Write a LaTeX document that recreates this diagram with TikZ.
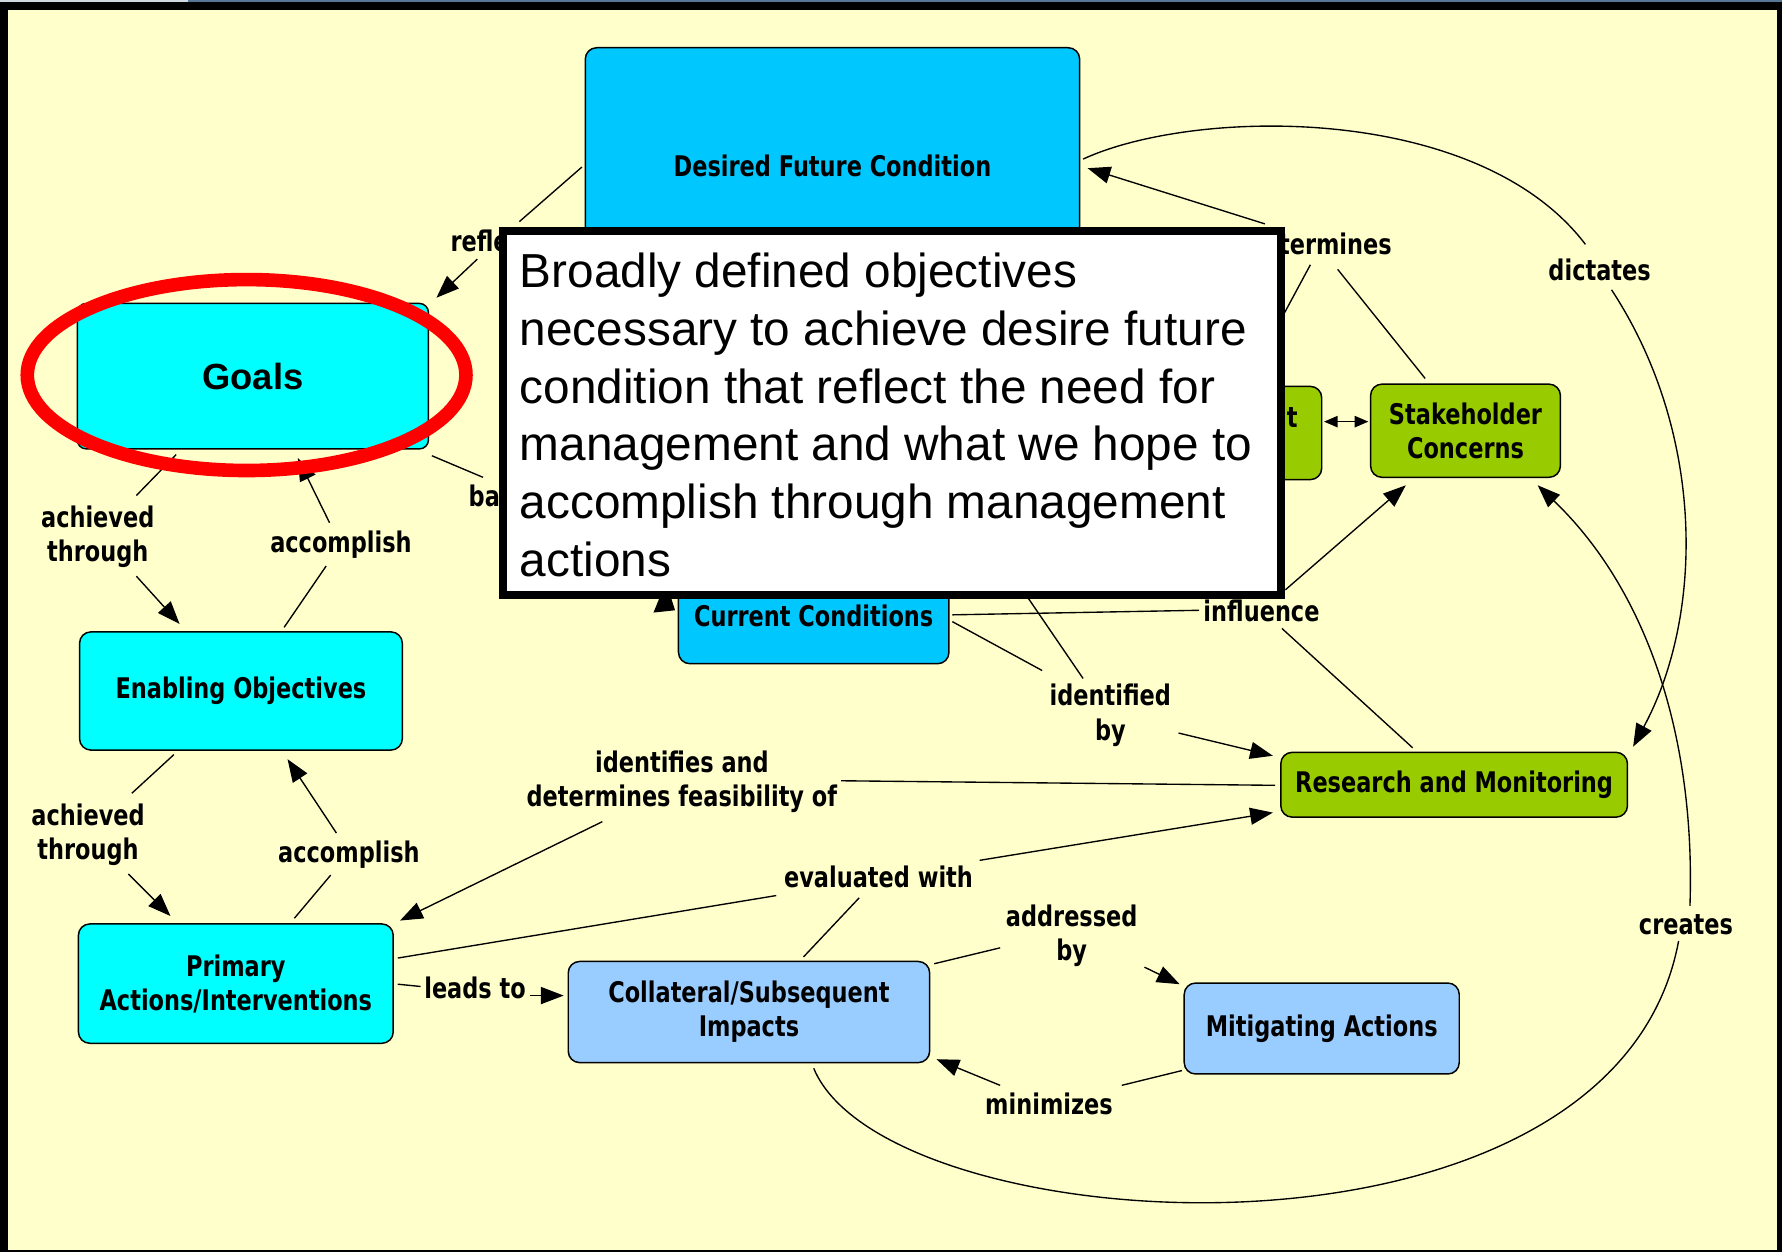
\documentclass[tikz,border=0pt]{standalone}
\usepackage{fontspec}
\setmainfont{DejaVu Sans}
\newfontfamily\labfont{DejaVu Sans}[FakeStretch=0.79]
\newfontfamily\arialfont{Liberation Sans}
\usetikzlibrary{arrows.meta}
\definecolor{cream}{RGB}{255,255,204}
\definecolor{cyanb}{RGB}{0,255,255}
\definecolor{skyb}{RGB}{0,200,255}
\definecolor{greenb}{RGB}{153,204,0}
\definecolor{lblueb}{RGB}{153,204,255}
\definecolor{ringred}{RGB}{255,0,0}
\definecolor{stripc}{RGB}{88,118,150}
\definecolor{stripl}{RGB}{208,216,224}
\begin{document}
\begin{tikzpicture}[x=0.5pt,y=-0.5pt,
  concept/.style={draw=black, line width=0.65pt, rounded corners=5pt, align=center, inner sep=0pt,
    font=\labfont\bfseries\fontsize{12.5}{15}\selectfont},
  lbl/.style={anchor=base, inner sep=0pt, font=\labfont\bfseries\fontsize{12.5}{15}\selectfont},
  link/.style={line width=0.6pt},
  arr/.style={line width=0.6pt, -{Triangle[length=10pt,width=7.5pt]}},
  dblarr/.style={line width=0.6pt, {Triangle[length=6pt,width=5pt]}-{Triangle[length=6pt,width=5pt]}},
  poptext/.style={anchor=base west, inner sep=0pt, font=\arialfont\fontsize{21}{25.4}\selectfont}
]
\useasboundingbox (0,0) rectangle (1568,1102);
% frame
\fill[black] (0,0) rectangle (1568,1102);
\fill[stripl] (0,0) rectangle (165,1.6);
\fill[stripc] (165,0) rectangle (1568,1.6);
\fill[cream] (7,9) rectangle (1564,1100);

% concept nodes
\node[concept, fill=skyb, minimum width=217.5pt, minimum height=104pt] (dfc) at (732.5,146) {Desired Future Condition};
\node[concept, fill=cyanb, rounded corners=4pt, minimum width=154.5pt, minimum height=64pt,
      font=\arialfont\bfseries\fontsize{16}{19}\selectfont] (goals) at (222.5,331) {Goals};
\node[concept, fill=cyanb, minimum width=142pt, minimum height=52pt] (eo) at (212,608) {Enabling Objectives};
\node[concept, fill=cyanb, minimum width=138.5pt, minimum height=52.5pt] (pa) at (207.5,865.5) {Primary\\Actions/Interventions};
\node[concept, fill=lblueb, minimum width=159pt, minimum height=44.5pt] (coll) at (659,890.5) {Collateral/Subsequent\\Impacts};
\node[concept, fill=lblueb, minimum width=121pt, minimum height=40pt] (mit) at (1163,905) {Mitigating Actions};
\node[concept, fill=greenb, minimum width=152.5pt, minimum height=28.5pt] (rm) at (1279.5,690.5) {Research and Monitoring};
\node[concept, fill=greenb, minimum width=83.5pt, minimum height=41pt] (sc) at (1289.5,379) {Stakeholder\\Concerns};
\node[concept, fill=greenb, minimum width=81.5pt, minimum height=41pt] (mg) at (1081.5,381) {};
\node[lbl] (mgt) at (1137,376) {t};
\node[concept, fill=skyb, minimum width=119pt, minimum height=42pt] (cc) at (716,542) {Current Conditions};

% linking phrases
\node[lbl, anchor=base west] (lrefl) at (396,221) {refle};
\node[lbl, anchor=base west] (lba) at (412,446) {ba};
\node[lbl, anchor=base east] (ldet) at (1225,224) {termines};
\node[lbl] (ldic) at (1407.5,247) {dictates};
\node[lbl] (lach1a) at (86,464) {achieved};
\node[lbl] (lach1b) at (86,494) {through};
\node[lbl] (lacc1) at (300,486) {accomplish};
\node[lbl] (lach2a) at (77.5,726) {achieved};
\node[lbl] (lach2b) at (77.5,756) {through};
\node[lbl] (lacc2) at (307,759) {accomplish};
\node[lbl] (lidf1) at (600,680) {identifies and};
\node[lbl] (lidf2) at (600,710) {determines feasibility of};
\node[lbl] (leval) at (773,781) {evaluated with};
\node[lbl] (laddr1) at (943,815) {addressed};
\node[lbl] (laddr2) at (943,845) {by};
\node[lbl] (llead) at (418,879) {leads to};
\node[lbl] (lmin) at (923,981) {minimizes};
\node[lbl] (lcre) at (1483.5,822) {creates};
\node[lbl] (lidb1) at (977,621) {identified};
\node[lbl] (lidb2) at (977,652) {by};
\node[lbl] (linfl) at (1110,547) {influence};

% connector end points
\coordinate (dfcW) at (512,147);   \coordinate (reflIn) at (457,195);
\coordinate (reflOut) at (420,228); \coordinate (goalsNE) at (384,262);
\coordinate (goalsS1) at (155,400); \coordinate (ach1In) at (120,436);
\coordinate (ach1Out) at (120,507); \coordinate (eoN1) at (158,549);
\coordinate (eoN2) at (250,552);   \coordinate (acc1In) at (287,498);
\coordinate (acc1Out) at (290,460); \coordinate (goalsS2) at (262,403);
\coordinate (goalsSE) at (380,401); \coordinate (baIn) at (425,420);
\coordinate (eoS1) at (153,664);   \coordinate (ach2In) at (116,698);
\coordinate (ach2Out) at (113,769); \coordinate (paN1) at (150,806);
\coordinate (paN2) at (259,808);   \coordinate (acc2In) at (291,770);
\coordinate (acc2Out) at (296,733); \coordinate (eoS2) at (253,668);
\coordinate (rmW1) at (1122,691);  \coordinate (idfIn) at (740,687);
\coordinate (idfOut) at (530,723); \coordinate (paNE) at (352,810);
\coordinate (paE1) at (350,843);   \coordinate (evalIn) at (683,788);
\coordinate (evalOut) at (862,757); \coordinate (rmW2) at (1120,715);
\coordinate (collN) at (707,842);  \coordinate (evalIn2) at (756,790);
\coordinate (paE2) at (350,866);   \coordinate (leadIn) at (370,868);
\coordinate (leadOut) at (466,876); \coordinate (collW) at (496,876);
\coordinate (collNE) at (822,848); \coordinate (addrIn) at (880,834);
\coordinate (addrOut) at (1007,851); \coordinate (mitNW) at (1038,866);
\coordinate (mitSW) at (1040,942); \coordinate (minIn) at (987,955);
\coordinate (minOut) at (880,955); \coordinate (collSE) at (824,932);
\coordinate (collS) at (716,940);  \coordinate (creIn) at (1477,828);
\coordinate (creOut) at (1487,797); \coordinate (scSE) at (1353,427);
\coordinate (dfcE) at (953,140);   \coordinate (dicIn) at (1395,215);
\coordinate (dicOut) at (1418,255); \coordinate (rmNE) at (1437,657);
\coordinate (scN) at (1254,333);   \coordinate (detIn1) at (1177,237);
\coordinate (mgN) at (1125,285);   \coordinate (detIn2) at (1153,233);
\coordinate (detOut) at (1113,197); \coordinate (dfcE2) at (957,148);
\coordinate (mgE) at (1165,371);   \coordinate (scW) at (1204,371);
\coordinate (ccE1) at (838,541);   \coordinate (inflIn) at (1055,537);
\coordinate (inflOut) at (1131,519); \coordinate (scS) at (1237,427);
\coordinate (rmN) at (1243,658);   \coordinate (inflIn2) at (1128,553);
\coordinate (ccE2) at (838,547);   \coordinate (idbIn1) at (917,590);
\coordinate (hidA) at (897,515);   \coordinate (idbIn2) at (953,597);
\coordinate (idbOut) at (1037,645); \coordinate (rmNW) at (1120,665);

% connectors
\draw[link] (dfcW) -- (reflIn);
\draw[arr] (reflOut) -- (goalsNE);
\draw[link] (goalsS1) -- (ach1In);
\draw[arr] (ach1Out) -- (eoN1);
\draw[link] (eoN2) -- (acc1In);
\draw[arr] (acc1Out) -- (goalsS2);
\draw[link] (goalsSE) -- (baIn);
\draw[link] (eoS1) -- (ach2In);
\draw[arr] (ach2Out) -- (paN1);
\draw[link] (paN2) -- (acc2In);
\draw[arr] (acc2Out) -- (eoS2);
\draw[link] (rmW1) -- (idfIn);
\draw[arr] (idfOut) -- (paNE);
\draw[link] (paE1) -- (evalIn);
\draw[arr] (evalOut) -- (rmW2);
\draw[link] (collN) -- (evalIn2);
\draw[link] (paE2) -- (leadIn);
\draw[arr] (leadOut) -- (collW);
\draw[link] (collNE) -- (addrIn);
\draw[arr] (addrOut) -- (mitNW);
\draw[link] (mitSW) -- (minIn);
\draw[arr] (minOut) -- (collSE);
\draw[link] (collS) .. controls (780,1095) and (1420,1135) .. (creIn);
\draw[arr] (creOut) .. controls (1492,650) and (1450,520) .. (scSE);
\draw[link] (dfcE) .. controls (1050,95) and (1300,90) .. (dicIn);
\draw[arr] (dicOut) .. controls (1500,380) and (1500,540) .. (rmNE);
\draw[link] (scN) -- (detIn1);
\draw[link] (mgN) -- (detIn2);
\draw[arr] (detOut) -- (dfcE2);
\draw[dblarr] (mgE) -- (scW);
\draw[link] (ccE1) -- (inflIn);
\draw[arr] (inflOut) -- (scS);
\draw[link] (rmN) -- (inflIn2);
\draw[link] (ccE2) -- (idbIn1);
\draw[link] (hidA) -- (idbIn2);
\draw[arr] (idbOut) -- (rmNW);
% arrow head partly hidden behind the pop-up
\fill[black] (575,539) -- (594,537) -- (586,512) -- cycle;

% red highlight ring
\draw[ringred, line width=6pt] (217,330) ellipse [x radius=193, y radius=84];

% pop-up text box
\draw[fill=white, draw=black, line width=3.5pt] (442.5,203.5) rectangle (1127.5,523.5);
\node[poptext] (p1) at (457,253) {Broadly defined objectives};
\node[poptext] (p2) at (457,304) {necessary to achieve desire future};
\node[poptext] (p3) at (457,355) {condition that reflect the need for};
\node[poptext] (p4) at (457,405) {management and what we hope to};
\node[poptext] (p5) at (457,456) {accomplish through management};
\node[poptext] (p6) at (457,507) {actions};
\end{tikzpicture}
\end{document}
